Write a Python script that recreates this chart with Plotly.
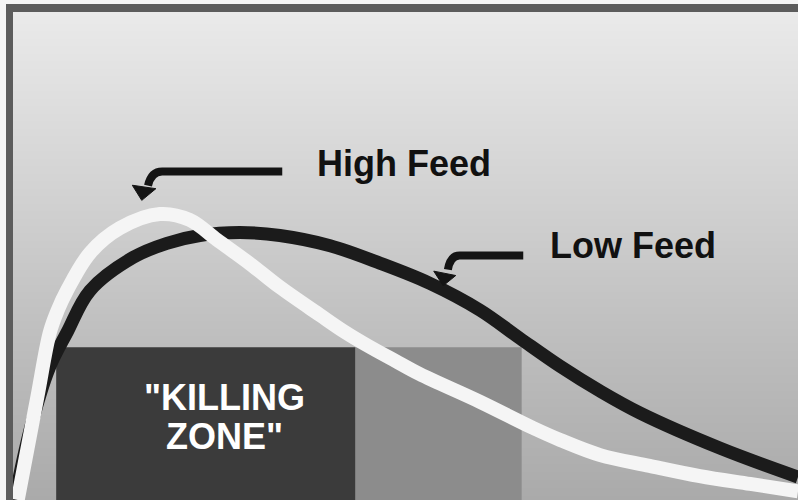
import plotly.graph_objects as go

# Кривые (условные единицы 0..100 по обеим осям)
high_x = [0.6, 1.5, 3.1, 4.7, 5.7, 6.9, 9.8, 13.6, 18.7, 22.5, 26.0, 30.2,
          34.0, 39.1, 42.3, 45.2, 48.7, 51.8, 59.5, 66.2, 69.7, 74.8, 81.1,
          87.5, 93.9, 100.0]
high_y = [0.0, 7.6, 21.1, 34.4, 38.9, 43.0, 50.6, 55.7, 58.6, 57.4, 53.3, 48.4,
          43.6, 37.9, 34.4, 31.6, 28.5, 25.8, 20.1, 14.8, 12.3, 9.2, 7.0,
          4.9, 3.3, 1.8]

low_x = [0.2, 2.2, 4.6, 6.9, 9.8, 15.3, 19.6, 23.8, 28.9, 34.0, 40.4, 46.8,
         53.1, 59.5, 64.6, 69.7, 74.8, 79.9, 90.1, 100.0]
low_y = [0.0, 14.5, 27.0, 34.4, 42.9, 49.7, 52.6, 54.2, 54.8, 54.2, 52.1, 48.5,
         44.4, 38.9, 33.1, 27.4, 22.3, 17.8, 10.6, 4.7]

# Зоны
kill_zone_x = [5.5, 43.6]
edge_zone_x = [43.6, 64.8]
zone_top = 31.3

# Фон: градиент сверху вниз
bg_y = [0, 30, 60, 100]
bg_shade = [170, 188, 208, 234]

fig = go.Figure()

fig.add_trace(go.Heatmap(
    x=[-1, 101], y=bg_y, z=[[s, s] for s in bg_shade],
    zmin=0, zmax=255, colorscale=[[0, 'rgb(0,0,0)'], [1, 'rgb(255,255,255)']],
    zsmooth='best', showscale=False, hoverinfo='skip'
))


def zone(xs, color):
    return go.Scatter(
        x=[xs[0], xs[1], xs[1], xs[0], xs[0]],
        y=[0, 0, zone_top, zone_top, 0],
        fill='toself', fillcolor=color, mode='lines', line=dict(width=0),
        hoverinfo='skip', showlegend=False
    )


fig.add_trace(zone(edge_zone_x, '#8c8c8c'))
fig.add_trace(zone(kill_zone_x, '#3b3b3b'))

fig.add_trace(go.Scatter(
    x=low_x, y=low_y, mode='lines', name='Low Feed',
    line=dict(color='#1b1b1b', width=13, shape='spline', smoothing=1),
    showlegend=False
))
fig.add_trace(go.Scatter(
    x=high_x, y=high_y, mode='lines', name='High Feed',
    line=dict(color='#f5f5f5', width=14, shape='spline', smoothing=1),
    showlegend=False
))

label_font = dict(family='Liberation Sans, Arial, sans-serif', size=36,
                  color='#111111', weight='bold')
zone_font = dict(family='Liberation Sans, Arial, sans-serif', size=36,
                 color='#ffffff', weight='bold')

fig.add_annotation(x=38.5, y=68.9, text='High Feed', showarrow=False,
                   xanchor='left', yanchor='middle', font=label_font)
fig.add_annotation(x=68.2, y=52.1, text='Low Feed', showarrow=False,
                   xanchor='left', yanchor='middle', font=label_font)
fig.add_annotation(x=27.0, y=21.0, text='"KILLING', showarrow=False,
                   xanchor='center', yanchor='middle', font=zone_font)
fig.add_annotation(x=27.0, y=13.1, text='ZONE"', showarrow=False,
                   xanchor='center', yanchor='middle', font=zone_font)

# Стрелки-крючки к подписям
arrow = dict(type='path', xref='x', yref='y', layer='above',
             line=dict(color='#141414', width=8))
fig.add_shape(path='M 34.3,67.3 L 19.0,67.3 Q 17.6,67.3 17.2,64.4', **arrow)
fig.add_shape(path='M 65.0,50.1 L 56.9,50.1 Q 55.7,50.1 55.4,47.2', **arrow)
head = dict(type='path', xref='x', yref='y', layer='above',
            fillcolor='#141414', line=dict(color='#141414', width=1))
fig.add_shape(path='M 15.2,64.5 L 18.2,63.8 L 16.4,61.4 Z', **head)
fig.add_shape(path='M 53.6,46.9 L 56.4,46.0 L 54.8,43.9 Z', **head)

# Рамка сверху и слева
frame = dict(type='rect', xref='paper', yref='paper', layer='above',
             fillcolor='#5c5c5c', line=dict(width=0))
fig.add_shape(x0=-0.0089, x1=0, y0=-0.01, y1=1.0164, **frame)
fig.add_shape(x0=-0.0089, x1=1.01, y0=1.0, y1=1.0164, **frame)

fig.update_layout(
    width=798, height=500,
    margin=dict(l=13, r=0, t=12, b=0),
    paper_bgcolor='#f4f4f4', plot_bgcolor='#c0c0c0',
    xaxis=dict(range=[0, 100], visible=False, fixedrange=True),
    yaxis=dict(range=[0, 100], visible=False, fixedrange=True),
    showlegend=False
)

fig.write_html(
    "out.html",
    config={'displayModeBar': False},
    post_script="document.body.style.margin='0';document.body.style.overflow='hidden';"
)
